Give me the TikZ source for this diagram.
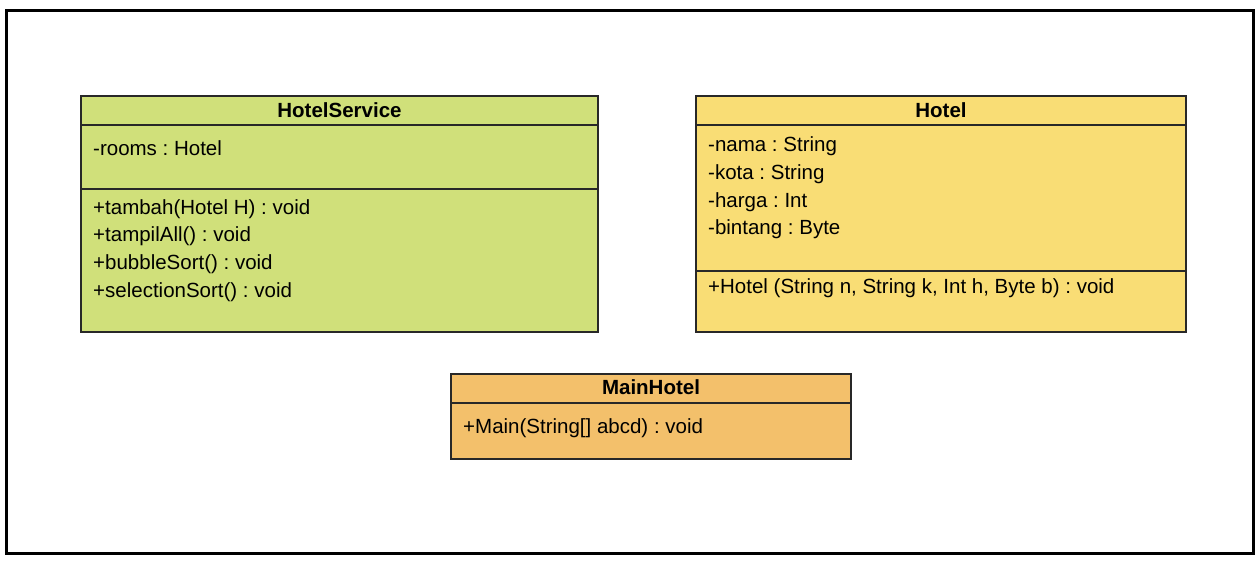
\documentclass[tikz,border=0pt]{standalone}
\usepackage{fontspec}
\setmainfont{Liberation Sans}
\frenchspacing
\definecolor{cgreen}{RGB}{208,224,122}
\definecolor{cyellow}{RGB}{249,221,117}
\definecolor{corange}{RGB}{243,192,107}
\definecolor{cline}{RGB}{40,40,40}
\begin{document}
\begin{tikzpicture}[x=1pt,y=-1pt,
  classbox/.style={draw=cline,line width=2pt},
  sep/.style={draw=cline,line width=2pt},
  title/.style={anchor=base,inner sep=0pt,font=\fontsize{20.5}{24}\selectfont\bfseries},
  member/.style={anchor=base west,inner sep=0pt,font=\fontsize{20.5}{24}\selectfont\frenchspacing}]
\useasboundingbox (0,0) rectangle (1258,562);
\fill[white] (0,0) rectangle (1258,562);
\draw[line width=3pt] (6,10) rectangle (1253,553);
% HotelService
\draw[classbox,fill=cgreen] (81,96) rectangle (598,332);
\coordinate (hsL1) at (81,125); \coordinate (hsR1) at (598,125);
\coordinate (hsL2) at (81,189); \coordinate (hsR2) at (598,189);
\draw[sep] (hsL1) -- (hsR1);
\draw[sep] (hsL2) -- (hsR2);
\node[title] (hsT) at (339.5,117) {HotelService};
\node[member] (hs1) at (93,155) {-rooms : Hotel};
\node[member] (hs2) at (93,214) {+tambah(Hotel H) : void};
\node[member] (hs3) at (93,241) {+tampilAll() : void};
\node[member] (hs4) at (93,269) {+bubbleSort() : void};
\node[member] (hs5) at (93,297) {+selectionSort() : void};
% Hotel
\draw[classbox,fill=cyellow] (696,96) rectangle (1186,332);
\coordinate (hL1) at (696,125); \coordinate (hR1) at (1186,125);
\coordinate (hL2) at (696,271); \coordinate (hR2) at (1186,271);
\draw[sep] (hL1) -- (hR1);
\draw[sep] (hL2) -- (hR2);
\node[title] (hT) at (941,117) {Hotel};
\node[member] (h1) at (708,151) {-nama : String};
\node[member] (h2) at (708,179) {-kota : String};
\node[member] (h3) at (708,207) {-harga : Int};
\node[member] (h4) at (708,234) {-bintang : Byte};
\node[member] (h5) at (708,293) {+Hotel (String n, String k, Int h, Byte b) : void};
% MainHotel
\draw[classbox,fill=corange] (451,374) rectangle (851,459);
\coordinate (mL1) at (451,403); \coordinate (mR1) at (851,403);
\draw[sep] (mL1) -- (mR1);
\node[title] (mT) at (651,394) {MainHotel};
\node[member] (m1) at (463,433) {+Main(String[] abcd) : void};
\end{tikzpicture}
\end{document}
